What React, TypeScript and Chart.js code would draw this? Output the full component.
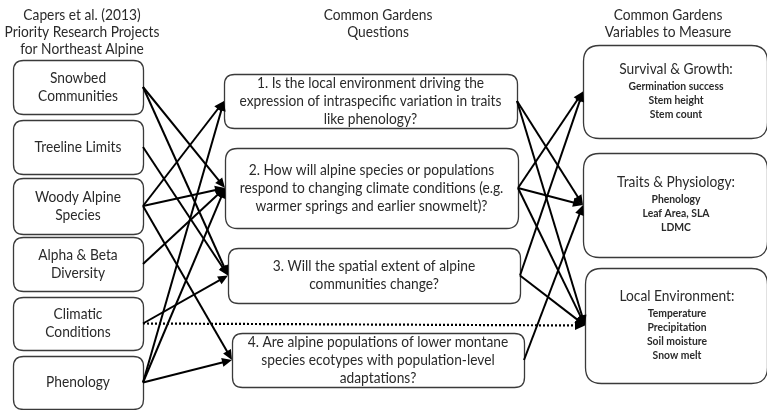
import React, { useEffect, useRef } from "react";
import { Chart, registerables } from "chart.js";

Chart.register(...registerables);

// ---------- Content ----------
const columnHeaders: string[][] = [
  ["Capers et al. (2013)", "Priority Research Projects", "for Northeast Alpine"],
  ["Common Gardens", "Questions"],
  ["Common Gardens", "Variables to Measure"],
];

const sourceLabels: string[][] = [
  ["Snowbed", "Communities"],
  ["Treeline Limits"],
  ["Woody Alpine", "Species"],
  ["Alpha & Beta", "Diversity"],
  ["Climatic", "Conditions"],
  ["Phenology"],
];

const questionLabels: string[][] = [
  ["1. Is the local environment driving the", "expression of intraspecific variation in traits", "like phenology?"],
  ["2. How will alpine species or populations", "respond to changing climate conditions (e.g.", "warmer springs and earlier snowmelt)?"],
  ["3. Will the spatial extent of alpine", "communities change?"],
  ["4. Are alpine populations of lower montane", "species ecotypes with population-level", "adaptations?"],
];

const variableTitles: string[] = ["Survival & Growth:", "Traits & Physiology:", "Local Environment:"];

const variableItems: string[][] = [
  ["Germination success", "Stem height", "Stem count"],
  ["Phenology", "Leaf Area, SLA", "LDMC"],
  ["Temperature", "Precipitation", "Soil moisture", "Snow melt"],
];

// links: [from, to]
const sourceToQuestion: number[][] = [
  [0, 1], [0, 2], [1, 2], [2, 0], [2, 1], [2, 3], [3, 1], [4, 2], [5, 0], [5, 1], [5, 3],
];
const questionToVariable: number[][] = [
  [0, 1], [0, 2], [1, 0], [1, 1], [1, 2], [2, 0], [2, 2], [3, 1],
];
const sourceToVariableDotted: number[][] = [[4, 2]];

// ---------- Layout (in scale units, 0..767 x 0..410) ----------
type Box = { x1: number; x2: number; y1: number; y2: number; r: number };
const sourceBoxes: Box[] = [
  { x1: 13, x2: 143, y1: 60, y2: 114, r: 10 },
  { x1: 13, x2: 143, y1: 120, y2: 174, r: 10 },
  { x1: 13, x2: 143, y1: 178, y2: 234, r: 10 },
  { x1: 13, x2: 143, y1: 237, y2: 291, r: 10 },
  { x1: 13, x2: 143, y1: 297, y2: 350, r: 10 },
  { x1: 13, x2: 143, y1: 356, y2: 409, r: 10 },
];
const questionBoxes: Box[] = [
  { x1: 224, x2: 517, y1: 74, y2: 128, r: 10 },
  { x1: 225, x2: 518, y1: 148, y2: 228, r: 12 },
  { x1: 228, x2: 520, y1: 248, y2: 303, r: 10 },
  { x1: 232, x2: 524, y1: 333, y2: 387, r: 10 },
];
const variableBoxes: Box[] = [
  { x1: 583, x2: 767, y1: 45, y2: 138, r: 16 },
  { x1: 583, x2: 767, y1: 153, y2: 257, r: 16 },
  { x1: 585, x2: 767, y1: 268, y2: 383, r: 16 },
];
const headerX = [82, 378, 668];
const headerY0 = 15;
const lineGap = 18;
const itemGap = 14;

const REG_FONT = "15px Lato, 'Open Sans', sans-serif";
const BOLD_FONT = "bold 11px Lato, 'Open Sans', sans-serif";
const TEXT_COLOR = "#2a2a2a";
const ARROW_LEN = 10;
const ARROW_HALF = 4.5;

const midY = (b: Box) => (b.y1 + b.y2) / 2;

type Edge = { x0: number; y0: number; x1: number; y1: number; dotted: boolean };
const edges: Edge[] = [
  ...sourceToQuestion.map(([s, q]) => ({
    x0: sourceBoxes[s].x2, y0: midY(sourceBoxes[s]),
    x1: questionBoxes[q].x1, y1: midY(questionBoxes[q]), dotted: false,
  })),
  ...questionToVariable.map(([q, v]) => ({
    x0: questionBoxes[q].x2, y0: midY(questionBoxes[q]),
    x1: variableBoxes[v].x1, y1: midY(variableBoxes[v]), dotted: false,
  })),
  ...sourceToVariableDotted.map(([s, v]) => ({
    x0: sourceBoxes[s].x2, y0: midY(sourceBoxes[s]),
    x1: variableBoxes[v].x1, y1: midY(variableBoxes[v]), dotted: true,
  })),
];

function shortened(e: Edge) {
  const dx = e.x1 - e.x0, dy = e.y1 - e.y0;
  const len = Math.hypot(dx, dy);
  const k = (len - ARROW_LEN * 0.6) / len;
  return { x: e.x0 + dx * k, y: e.y0 + dy * k };
}

function roundRect(ctx: CanvasRenderingContext2D, x: number, y: number, w: number, h: number, r: number) {
  ctx.beginPath();
  ctx.moveTo(x + r, y);
  ctx.lineTo(x + w - r, y);
  ctx.quadraticCurveTo(x + w, y, x + w, y + r);
  ctx.lineTo(x + w, y + h - r);
  ctx.quadraticCurveTo(x + w, y + h, x + w - r, y + h);
  ctx.lineTo(x + r, y + h);
  ctx.quadraticCurveTo(x, y + h, x, y + h - r);
  ctx.lineTo(x, y + r);
  ctx.quadraticCurveTo(x, y, x + r, y);
  ctx.closePath();
}

const diagramPlugin = {
  id: "diagram",
  beforeDatasetsDraw(chart: any) {
    const ctx: CanvasRenderingContext2D = chart.ctx;
    const xs = chart.scales.x, ys = chart.scales.y;
    ctx.save();
    ctx.strokeStyle = "#3a3a3a";
    ctx.lineWidth = 1.3;
    ctx.fillStyle = "#ffffff";
    [...sourceBoxes, ...questionBoxes, ...variableBoxes].forEach((b) => {
      const px1 = xs.getPixelForValue(b.x1), px2 = xs.getPixelForValue(b.x2);
      const py1 = ys.getPixelForValue(b.y1), py2 = ys.getPixelForValue(b.y2);
      roundRect(ctx, px1 + 0.5, py1 + 0.5, px2 - px1, py2 - py1, b.r);
      ctx.fill();
      ctx.stroke();
    });
    ctx.restore();
  },
  afterDatasetsDraw(chart: any) {
    const ctx: CanvasRenderingContext2D = chart.ctx;
    const xs = chart.scales.x, ys = chart.scales.y;
    ctx.save();
    // arrowheads
    ctx.fillStyle = "#000";
    edges.forEach((e) => {
      const tx = xs.getPixelForValue(e.x1), ty = ys.getPixelForValue(e.y1);
      const sx = xs.getPixelForValue(e.x0), sy = ys.getPixelForValue(e.y0);
      const a = Math.atan2(ty - sy, tx - sx);
      const bx = tx - Math.cos(a) * ARROW_LEN, by = ty - Math.sin(a) * ARROW_LEN;
      ctx.beginPath();
      ctx.moveTo(tx, ty);
      ctx.lineTo(bx - Math.sin(a) * ARROW_HALF, by + Math.cos(a) * ARROW_HALF);
      ctx.lineTo(bx + Math.sin(a) * ARROW_HALF, by - Math.cos(a) * ARROW_HALF);
      ctx.closePath();
      ctx.fill();
    });

    // text
    ctx.fillStyle = TEXT_COLOR;
    ctx.textAlign = "center";
    ctx.textBaseline = "middle";
    ctx.font = REG_FONT;
    const regScale = 262 / ctx.measureText("expression of intraspecific variation in traits").width;
    ctx.font = BOLD_FONT;
    const boldScale = 95 / ctx.measureText("Germination success").width;

    const draw = (t: string, x: number, y: number, font: string, s: number) => {
      ctx.save();
      ctx.font = font;
      ctx.translate(xs.getPixelForValue(x), ys.getPixelForValue(y));
      ctx.scale(s, 1);
      ctx.fillText(t, 0, 0);
      ctx.restore();
    };

    columnHeaders.forEach((lines, i) =>
      lines.forEach((t, j) => draw(t, headerX[i], headerY0 + j * 17, REG_FONT, regScale))
    );
    sourceLabels.forEach((lines, i) => {
      const b = sourceBoxes[i];
      const cx = (b.x1 + b.x2) / 2, cy = midY(b);
      lines.forEach((t, j) => draw(t, cx, cy - ((lines.length - 1) * lineGap) / 2 + j * lineGap, REG_FONT, regScale));
    });
    questionLabels.forEach((lines, i) => {
      const b = questionBoxes[i];
      const cx = (b.x1 + b.x2) / 2, cy = midY(b);
      lines.forEach((t, j) => draw(t, cx, cy - ((lines.length - 1) * lineGap) / 2 + j * lineGap, REG_FONT, regScale));
    });
    variableTitles.forEach((title, i) => {
      const b = variableBoxes[i];
      const cx = (b.x1 + b.x2) / 2 + 1;
      const items = variableItems[i];
      const total = 17 + (items.length - 1) * itemGap;
      const top = midY(b) - total / 2;
      draw(title, cx, top, REG_FONT, regScale);
      items.forEach((t, j) => draw(t, cx, top + 17 + j * itemGap, BOLD_FONT, boldScale));
    });
    ctx.restore();
  },
};

export default function App() {
  const ref = useRef<HTMLCanvasElement | null>(null);
  useEffect(() => {
    document.body.style.margin = "0";
    const canvas = ref.current;
    if (!canvas) return;
    const datasets = edges.map((e) => {
      const end = shortened(e);
      return {
        type: "line" as const,
        data: [{ x: e.x0, y: e.y0 }, { x: end.x, y: end.y }],
        borderColor: "#000",
        borderWidth: e.dotted ? 2.2 : 2,
        borderDash: e.dotted ? [2, 2] : [],
        pointRadius: 0,
        showLine: true,
        fill: false,
        tension: 0,
      };
    });
    const chart = new Chart(canvas, {
      type: "scatter",
      data: { datasets },
      options: {
        animation: false,
        responsive: false,
        maintainAspectRatio: false,
        layout: { padding: 0 },
        plugins: { legend: { display: false }, tooltip: { enabled: false }, title: { display: false } },
        events: [],
        scales: {
          x: { type: "linear", min: 0, max: 767, display: false },
          y: { type: "linear", min: 0, max: 410, reverse: true, display: false },
        },
      },
      plugins: [diagramPlugin],
    });
    return () => chart.destroy();
  }, []);
  return (
    <div style={{ width: 767, height: 410, background: "#fff" }}>
      <canvas ref={ref} width={767} height={410} style={{ display: "block" }} />
    </div>
  );
}
